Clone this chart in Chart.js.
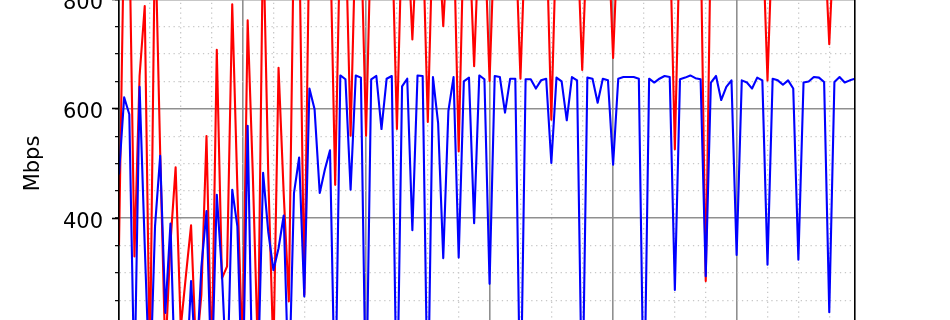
<!DOCTYPE html>
<html>
<head>
<meta charset="utf-8">
<title>Mbps</title>
<script src="https://cdn.jsdelivr.net/npm/chart.js@4.4.1/dist/chart.umd.min.js"></script>
<style>
  html, body { margin: 0; padding: 0; background: #fff; }
  /* the figure is larger than the window: only its middle part is shown */
  #wrap { position: relative; width: 950px; height: 320px; overflow: hidden; background: #fff; }
  #chart { position: absolute; left: 0; top: -140px; }
</style>
</head>
<body>
<div id="wrap"><canvas id="chart" width="950" height="617"></canvas></div>
<script>
// ======================================================================
// DATOS (horas, Mbps)
// ======================================================================
const horas = [
  0, 1, 2, 3, 4, 5, 6, 7, 8, 9, 10, 11,
  12, 13, 14, 15, 16, 17, 18, 19, 20, 21, 22, 23,
  24, 25, 26, 27, 28, 29, 30, 31, 32, 33, 34, 35,
  36, 37, 38, 39, 40, 41, 42, 43, 44, 45, 46, 47,
  48, 49, 50, 51, 52, 53, 54, 55, 56, 57, 58, 59,
  60, 61, 62, 63, 64, 65, 66, 67, 68, 69, 70, 71,
  72, 73, 74, 75, 76, 77, 78, 79, 80, 81, 82, 83,
  84, 85, 86, 87, 88, 89, 90, 91, 92, 93, 94, 95,
  96, 97, 98, 99, 100, 101, 102, 103, 104, 105, 106, 107,
  108, 109, 110, 111, 112, 113, 114, 115, 116, 117, 118, 119,
  120, 121, 122, 123, 124, 125, 126, 127, 128, 129, 130, 131,
  132, 133, 134, 135, 136, 137, 138, 139, 140, 141, 142, 143
];

const serieAzul = [
  480, 621, 590, 90, 640, 350, 80, 385, 514, 227, 390, 70,
  40, 90, 285, 120, 310, 413, 100, 443, 300, 90, 452, 385,
  60, 569, 50, 110, 483, 375, 305, 345, 405, 80, 446, 511,
  257, 637, 599, 446, 489, 524, 40, 661, 654, 452, 661, 657,
  40, 654, 660, 563, 655, 660, 30, 641, 655, 378, 661, 660,
  35, 658, 574, 327, 596, 658, 328, 650, 657, 391, 661, 654,
  280, 660, 658, 593, 655, 655, 25, 654, 654, 637, 652, 655,
  501, 657, 650, 579, 658, 652, 30, 657, 655, 611, 655, 652,
  498, 655, 658, 658, 658, 655, 20, 655, 648, 655, 660, 658,
  269, 654, 657, 661, 656, 654, 294, 648, 660, 616, 640, 652,
  333, 652, 648, 637, 657, 652, 315, 655, 652, 644, 652, 637,
  324, 648, 650, 658, 657, 649, 228, 649, 658, 648, 652, 655
];

const serieRoja = [
  350, 940, 930, 330, 660, 788, 120, 935, 520, 150, 355, 493,
  200, 295, 387, 150, 260, 550, 130, 708, 290, 312, 791, 455,
  150, 762, 480, 150, 930, 480, 150, 675, 445, 248, 935, 930,
  260, 930, 925, 935, 930, 925, 461, 930, 935, 551, 930, 925,
  551, 935, 930, 930, 925, 935, 563, 930, 935, 727, 930, 925,
  576, 935, 930, 751, 930, 935, 522, 930, 925, 678, 935, 930,
  651, 930, 925, 935, 930, 925, 655, 930, 935, 930, 925, 935,
  580, 930, 925, 935, 930, 925, 671, 930, 935, 930, 925, 935,
  693, 930, 925, 935, 930, 925, 930, 935, 930, 925, 935, 930,
  526, 930, 925, 935, 930, 925, 285, 930, 935, 930, 925, 935,
  930, 925, 935, 930, 925, 935, 652, 930, 925, 935, 930, 925,
  935, 930, 925, 935, 930, 925, 718, 930, 935, 930, 925, 935
];

const marcasY = [0, 200, 400, 600, 800, 1000];   // etiquetas del eje Y
const marcasX = [0, 24, 48, 72, 96, 120];         // lineas mayores del eje X

// ======================================================================
// ESTILO
// ======================================================================
const GRIS = "#8f8f8f";
const GRIS_CLARO = "#c8c8c8";
const FUENTE = { family: "'DejaVu Sans', sans-serif", size: 21 };

const mayorY = c => c.tick && marcasY.includes(c.tick.value);
const mayorX = c => c.tick && marcasX.includes(c.tick.value);

const puntos = vals => horas.map((h, i) => ({ x: h, y: vals[i] }));

// ======================================================================
// GRAFICO
// ======================================================================
const canvas = document.getElementById("chart");

const chart = new Chart(canvas, {
  type: "line",
  data: {
    datasets: [
      {
        label: "azul",
        data: puntos(serieAzul),
        borderColor: "#0000ff",
        borderWidth: 2.1,
        borderJoinStyle: "round",
        pointRadius: 0,
        tension: 0,
        order: 0
      },
      {
        label: "rojo",
        data: puntos(serieRoja),
        borderColor: "#ff0000",
        borderWidth: 2.1,
        borderJoinStyle: "round",
        pointRadius: 0,
        tension: 0,
        order: 1
      }
    ]
  },
  options: {
    responsive: false,
    animation: false,
    layout: { padding: { top: 30, right: 95, bottom: 0, left: 0 } },
    plugins: { legend: { display: false }, tooltip: { enabled: false } },
    scales: {
      x: {
        type: "linear",
        min: 0,
        max: 143,
        ticks: { stepSize: 6, display: false, includeBounds: false },
        grid: {
          color: c => mayorX(c) ? GRIS : GRIS_CLARO,
          lineWidth: c => mayorX(c) ? 1.6 : 1.3,
          drawTicks: false
        },
        border: { color: "#000", width: 1.6, z: 1, dash: c => mayorX(c) ? [] : [1.3, 3.6] },
        afterFit: s => { s.height = 40; }
      },
      y: {
        position: "left",
        weight: 1,
        min: 0,
        max: 1000,
        ticks: {
          stepSize: 50,
          autoSkip: false,
          padding: 12,
          labelOffset: 4,
          color: "#000",
          font: FUENTE,
          callback: v => marcasY.includes(v) ? v : ""
        },
        grid: {
          color: c => mayorY(c) ? GRIS : GRIS_CLARO,
          lineWidth: c => mayorY(c) ? 1.6 : 1.3,
          tickLength: 4,
          tickColor: "#000",
          tickWidth: 1.2
        },
        border: { color: "#000", width: 1.6, z: 1, dash: c => mayorY(c) ? [] : [1.3, 3.6] },
        title: {
          display: true,
          text: "Mbps",
          color: "#000",
          font: FUENTE,
          padding: { top: 21, bottom: 0 }
        },
        afterFit: s => { s.width = 119; }
      },
      yMayor: {
        position: "left",
        weight: 0,
        min: 0,
        max: 1000,
        ticks: { stepSize: 200, display: false },
        grid: { drawOnChartArea: false, tickLength: 7, tickColor: "#000", tickWidth: 1.6 },
        border: { display: false },
        afterFit: s => { s.width = 0; }
      },
      yDer: {
        position: "right",
        min: 0,
        max: 1000,
        ticks: { display: false },
        grid: { display: false },
        border: { display: true, color: "#000", width: 1.6, z: 1 },
        afterFit: s => { s.width = 0; }
      }
    }
  }
});

// la linea de 800 Mbps queda justo en el borde superior de la ventana
canvas.style.top = -Math.round(chart.scales.y.getPixelForValue(800) + 0.3) + "px";
</script>
</body>
</html>
